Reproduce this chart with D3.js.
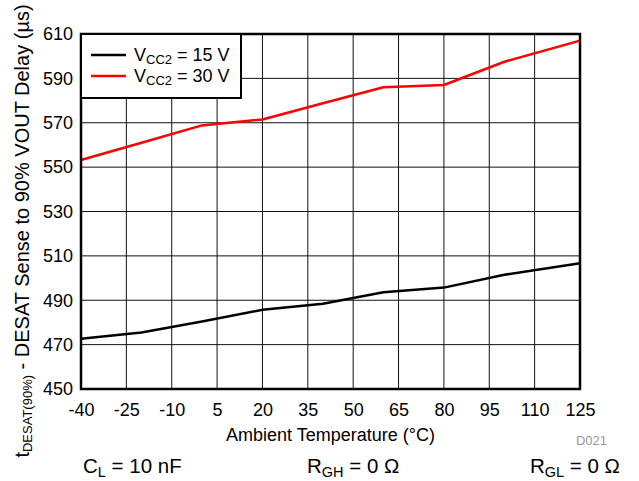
<!DOCTYPE html>
<html>
<head>
<meta charset="utf-8">
<script src="https://cdn.jsdelivr.net/npm/d3@7"></script>
<style>
  body { margin: 0; background: #fff; }
  svg { display: block; font-family: 'Liberation Sans', Arial, sans-serif; }
</style>
</head>
<body>
<svg id="chart"></svg>
<script>
const temps = [-40, -20, 0, 20, 40, 60, 80, 100, 125];
const vcc15 = [472.6, 475.5, 480.4, 485.7, 488.4, 493.6, 495.7, 501.5, 506.7];
const vcc30 = [553.2, 561, 568.8, 571.5, 578.8, 586, 587, 597.5, 607];
const xTicks = [-40, -25, -10, 5, 20, 35, 50, 65, 80, 95, 110, 125];
const yTicks = [450, 470, 490, 510, 530, 550, 570, 590, 610];

const width = 639;
const height = 481;
const margin = { top: 34, right: 59, bottom: 92, left: 81 };

const svg = d3.select('#chart').attr('width', width).attr('height', height);

const xScale = d3.scaleLinear().domain([-40, 125]).range([margin.left, width - margin.right]);
const yScale = d3.scaleLinear().domain([450, 610]).range([height - margin.bottom, margin.top]);

// Grid
svg
  .append('g')
  .attr('stroke', '#111')
  .attr('stroke-width', 1)
  .call((g) =>
    g
      .selectAll('.vx')
      .data(xTicks)
      .join('line')
      .attr('x1', (d) => xScale(d))
      .attr('x2', (d) => xScale(d))
      .attr('y1', yScale(450))
      .attr('y2', yScale(610))
  )
  .call((g) =>
    g
      .selectAll('.hy')
      .data(yTicks)
      .join('line')
      .attr('y1', (d) => yScale(d))
      .attr('y2', (d) => yScale(d))
      .attr('x1', xScale(-40))
      .attr('x2', xScale(125))
  );

// Axes labels (plain hyphen for negatives, like the original)
const xAxis = svg
  .append('g')
  .attr('transform', `translate(0, ${yScale(450)})`)
  .call(
    d3
      .axisBottom(xScale)
      .tickValues(xTicks)
      .tickFormat((d) => String(d))
      .tickSize(0)
      .tickPadding(14)
  );
xAxis.select('.domain').remove();
xAxis.selectAll('text').attr('font-size', 18).attr('font-family', null).attr('fill', '#000');

const yAxis = svg
  .append('g')
  .attr('transform', `translate(${xScale(-40)}, 0)`)
  .call(d3.axisLeft(yScale).tickValues(yTicks).tickSize(0).tickPadding(8));
yAxis.select('.domain').remove();
yAxis.selectAll('text').attr('font-size', 18).attr('font-family', null).attr('fill', '#000');

// Lines
const line = d3
  .line()
  .x((d) => xScale(d[0]))
  .y((d) => yScale(d[1]));

const series = [
  { values: vcc15, color: '#000', label: '15 V' },
  { values: vcc30, color: '#ff0000', label: '30 V' },
];

series.forEach((s) => {
  svg
    .append('path')
    .datum(temps.map((t, i) => [t, s.values[i]]))
    .attr('fill', 'none')
    .attr('stroke', s.color)
    .attr('stroke-width', 2.5)
    .attr('stroke-linejoin', 'round')
    .attr('d', line);
});

// Frame
svg
  .append('rect')
  .attr('x', xScale(-40))
  .attr('y', yScale(610))
  .attr('width', xScale(125) - xScale(-40))
  .attr('height', yScale(450) - yScale(610))
  .attr('fill', 'none')
  .attr('stroke', '#000')
  .attr('stroke-width', 2.5);

// Legend
const legend = svg.append('g').attr('transform', `translate(${xScale(-40)}, ${yScale(610)})`);
legend
  .append('rect')
  .attr('width', 160)
  .attr('height', 64)
  .attr('fill', '#fff')
  .attr('stroke', '#000')
  .attr('stroke-width', 2);
series.forEach((s, i) => {
  const y = 21 + i * 21;
  legend
    .append('line')
    .attr('x1', 10)
    .attr('x2', 45)
    .attr('y1', y)
    .attr('y2', y)
    .attr('stroke', s.color)
    .attr('stroke-width', 2.5);
  const t = legend
    .append('text')
    .attr('x', 53)
    .attr('y', y + 6)
    .attr('font-size', 18);
  t.append('tspan').text('V');
  t.append('tspan').attr('font-size', 13).attr('dy', 3).text('CC2');
  t.append('tspan').attr('dy', -3).text(` = ${s.label}`);
});

// Axis titles
svg
  .append('text')
  .attr('x', (xScale(-40) + xScale(125)) / 2)
  .attr('y', 441)
  .attr('text-anchor', 'middle')
  .attr('font-size', 18)
  .text('Ambient Temperature (°C)');

const yt = svg
  .append('text')
  .attr('transform', 'translate(29, 231) rotate(-90)')
  .attr('text-anchor', 'middle')
  .attr('font-size', 20);
yt.append('tspan').text('t');
yt.append('tspan').attr('font-size', 13).attr('dy', 3).text('DESAT(90%)');
yt.append('tspan').attr('dy', -3).text(' - DESAT Sense to 90% VOUT Delay (µs)');

svg
  .append('text')
  .attr('x', 607)
  .attr('y', 445)
  .attr('text-anchor', 'end')
  .attr('font-size', 13)
  .attr('fill', '#999')
  .text('D021');

// Conditions
const conds = [
  { x: 83, main: 'C', sub: 'L', rest: ' = 10 nF' },
  { x: 307, main: 'R', sub: 'GH', rest: ' = 0 Ω' },
  { x: 530, main: 'R', sub: 'GL', rest: ' = 0 Ω' },
];
conds.forEach((c) => {
  const t = svg.append('text').attr('x', c.x).attr('y', 473).attr('font-size', 20.5);
  t.append('tspan').text(c.main);
  t.append('tspan').attr('font-size', 14.5).attr('dy', 4).text(c.sub);
  t.append('tspan').attr('dy', -4).text(c.rest);
});
</script>
</body>
</html>
